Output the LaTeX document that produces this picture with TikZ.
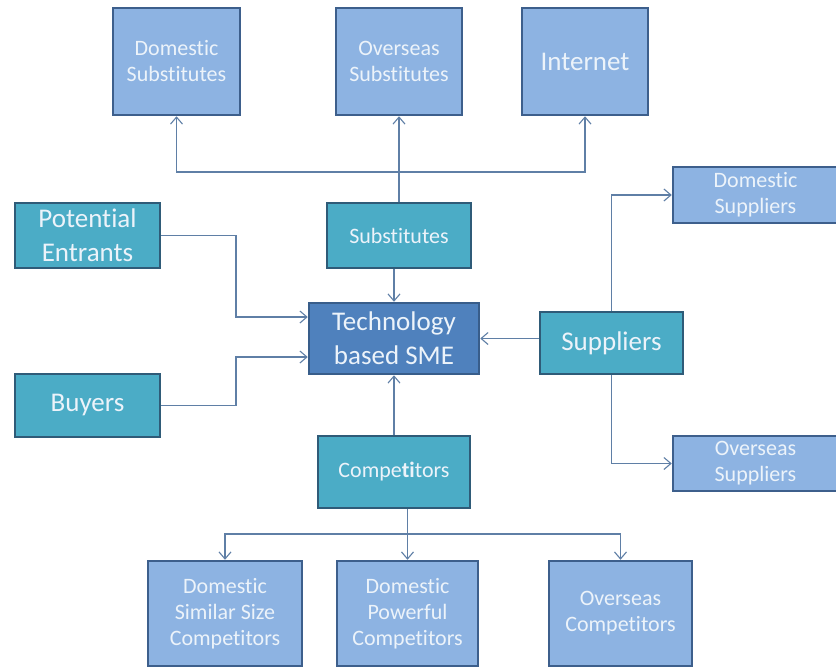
\documentclass[tikz,border=0pt]{standalone}
\usepackage{fontspec}
\setmainfont{Carlito}[Ligatures=NoCommon]
\usetikzlibrary{arrows.meta}
\definecolor{lfill}{HTML}{8DB3E2}
\definecolor{lborder}{HTML}{3D5F8C}
\definecolor{tfill}{HTML}{4BACC6}
\definecolor{tborder}{HTML}{2F5B78}
\definecolor{cfill}{HTML}{4F81BD}
\definecolor{cborder}{HTML}{385D8A}
\definecolor{linecol}{HTML}{5F7FA6}
\definecolor{txt}{RGB}{236,243,250}
\tikzset{
  basebox/.style={rectangle, inner sep=0pt, align=center, text=txt, line width=2.5pt},
  lbox/.style={basebox, fill=lfill, draw=lborder, font=\fontsize{22}{26}\selectfont},
  tbox/.style={basebox, fill=tfill, draw=tborder, font=\fontsize{22}{26}\selectfont},
  tboxbig/.style={basebox, fill=tfill, draw=tborder, font=\fontsize{27}{34}\selectfont},
  cbox/.style={basebox, fill=cfill, draw=cborder, font=\fontsize{27}{34}\selectfont},
  arr/.style={draw=linecol, line width=1.3pt, -{Straight Barb[length=7pt,width=12pt,line width=1.1pt]}},
  conn/.style={draw=linecol, line width=1.3pt}
}
\begin{document}
\begin{tikzpicture}[x=1pt,y=-1pt]
\useasboundingbox (0,0) rectangle (836,667);
\clip (0,0) rectangle (836,667);
\fill[white] (0,0) rectangle (836,667);
% top row
\node[lbox, minimum width=127pt, minimum height=107pt] (dsub) at (176.5,61.5) {Domestic\\Substitutes};
\node[lbox, minimum width=126pt, minimum height=107pt] (osub) at (399,61.5) {Overseas\\Substitutes};
\node[lbox, minimum width=126pt, minimum height=107pt, font=\fontsize{27}{34}\selectfont] (inet) at (585,61.5) {Internet};
% middle
\node[tbox, minimum width=144pt, minimum height=65pt] (subs) at (399,235.5) {Substitutes};
\node[tboxbig, minimum width=145pt, minimum height=65pt] (pe) at (87.5,235.5) {Potential\\Entrants};
\node[tboxbig, minimum width=145pt, minimum height=63pt] (buy) at (87.5,405.5) {Buyers};
\node[cbox, minimum width=170pt, minimum height=71pt] (tech) at (394,338.5) {Technology\\based SME};
\node[tboxbig, minimum width=143pt, minimum height=62pt] (sup) at (611.5,343) {Suppliers};
\node[lbox, minimum width=165pt, minimum height=56pt] (dsup) at (755.5,195) {Domestic\\Suppliers};
\node[lbox, minimum width=165pt, minimum height=55pt] (osup) at (755.5,463.5) {Overseas\\Suppliers};
\node[tbox, minimum width=152pt, minimum height=72pt] (comp) at (394,472) {Compe\textbf{ti}tors};
% bottom row
\node[lbox, minimum width=154pt, minimum height=105pt] (dssc) at (225,613.5) {Domestic\\Similar Size\\Competitors};
\node[lbox, minimum width=141pt, minimum height=105pt] (dpc) at (407.5,613.5) {Domestic\\Powerful\\Competitors};
\node[lbox, minimum width=143pt, minimum height=105pt] (oc) at (620.5,613.5) {Overseas\\Competitors};
% coordinates
\coordinate (hubT) at (399,172);
\coordinate (hubB) at (407.5,534);
\coordinate (bendPE) at (236,317);
\coordinate (bendBU) at (236,357);
% connectors: substitutes
\draw[arr] (subs.north) -- (osub.south);
\draw[arr] (hubT) -| (dsub.south);
\draw[arr] (hubT) -| (inet.south);
\draw[arr] (subs.south -| tech.north) -- (tech.north);
% entrants and buyers
\draw[arr] (pe.east) -| (bendPE) -- (tech.west |- bendPE);
\draw[arr] (buy.east) -| (bendBU) -- (tech.west |- bendBU);
% suppliers
\draw[arr] (sup.west |- tech.east) -- (tech.east);
\draw[arr] (sup.north) |- (dsup.west);
\draw[arr] (sup.south) |- (osup.west);
% competitors
\draw[arr] (comp.north) -- (tech.south);
\draw[arr] (comp.south -| dpc.north) -- (dpc.north);
\draw[arr] (hubB) -| (dssc.north);
\draw[arr] (hubB) -| (oc.north);
\end{tikzpicture}
\end{document}
